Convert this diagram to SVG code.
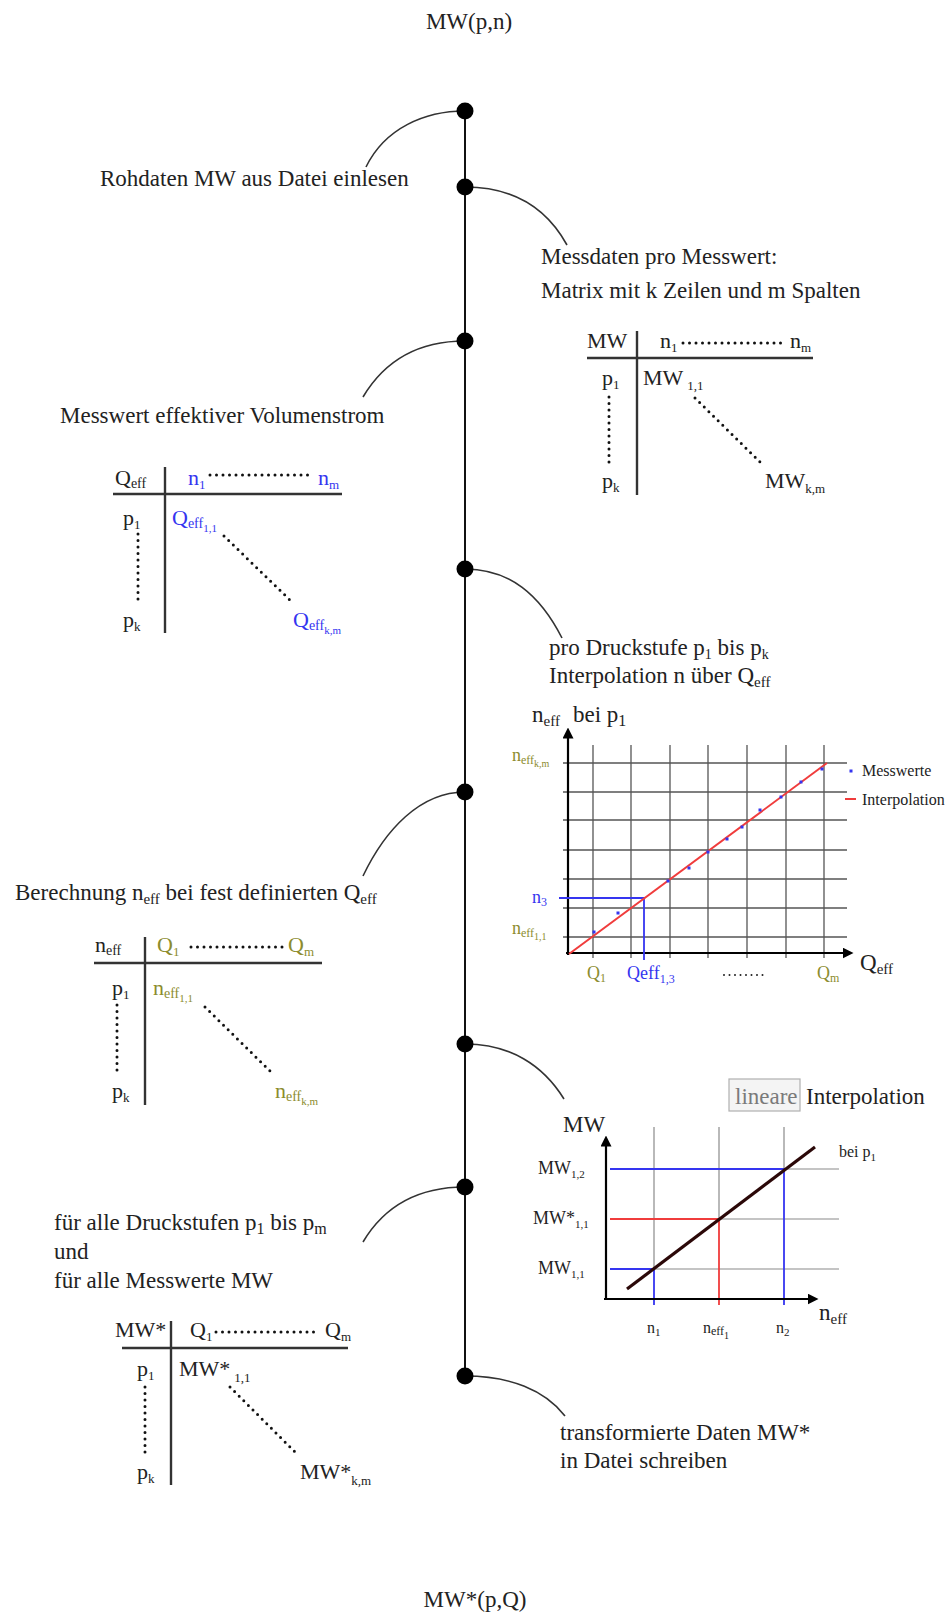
<svg xmlns="http://www.w3.org/2000/svg" width="952" height="1616" viewBox="0 0 952 1616">
<defs>
<style>
text { font-family: 'Liberation Serif', 'Times New Roman', serif; fill: #222; }
.lg { font-size: 23px; }
.tb { font-size: 22px; }
.sm { font-size: 18px; }
.xs { font-size: 16px; }
.blue { fill: #3535f0; }
.olive { fill: #8c8c2e; }
.conn { fill: none; stroke: #333; stroke-width: 1.6; }
.spine { stroke: #111; stroke-width: 2; }
.dot { fill: #000; }
.rule { stroke: #333; stroke-width: 2.4; fill: none; }
.dots { stroke: #111; stroke-width: 3; stroke-linecap: round; stroke-dasharray: 0 6.5; fill: none; }
.sdots { stroke: #222; stroke-width: 2; stroke-linecap: round; stroke-dasharray: 0 5.5; fill: none; }
.g1 { stroke: #555; stroke-width: 1.3; fill: none; }
.g2 { stroke: #8a8a8a; stroke-width: 1.2; fill: none; }
.axis { stroke: #000; stroke-width: 2.2; fill: none; }
.bl { stroke: #3535f0; stroke-width: 1.8; fill: none; }
.rd { stroke: #f03c3c; stroke-width: 1.8; fill: none; }
.pt { fill: #3535f0; }
</style>
<marker id="arr" viewBox="0 0 10 10" refX="5" refY="5" markerWidth="11" markerHeight="11" markerUnits="userSpaceOnUse" orient="auto">
<path d="M0,0 L10,5 L0,10 z" fill="#000"/>
</marker>
</defs>
<rect width="952" height="1616" fill="#fff"/>

<g id="connectors">
<line class="spine" x1="465" y1="111" x2="465" y2="1377"/>
<path class="conn" d="M465,111 C425,111 385,128 366,167"/>
<path class="conn" d="M465,187 C510,187 545,205 567,245"/>
<path class="conn" d="M465,341 C420,341 385,360 363,397"/>
<path class="conn" d="M465,569 C510,569 540,595 562,638"/>
<path class="conn" d="M465,792 C420,792 385,830 363,876"/>
<path class="conn" d="M465,1044 C510,1044 543,1065 564,1099"/>
<path class="conn" d="M465,1187 C420,1187 385,1205 363,1242"/>
<path class="conn" d="M465,1376 C510,1376 545,1390 565,1416"/>
</g>

<g id="start">
<text class="lg" x="469" y="29" text-anchor="middle">MW(p,n)</text>
</g>

<g id="step1">
<circle class="dot" cx="465" cy="111" r="8.5"/>
<text class="lg" x="100" y="186">Rohdaten MW aus Datei einlesen</text>
</g>

<g id="step2">
<circle class="dot" cx="465" cy="187" r="8.5"/>
<text class="lg" x="541" y="264">Messdaten pro Messwert:</text>
<text class="lg" x="541" y="298">Matrix mit k Zeilen und m Spalten</text>
<g id="table-mw">
<line class="rule" x1="637" y1="331" x2="637" y2="495"/>
<line class="rule" x1="587" y1="358" x2="813" y2="358"/>
<text class="tb" x="587" y="348">MW</text>
<text class="tb" x="660" y="348">n<tspan font-size="13" dy="4">1</tspan></text>
<line class="dots" x1="683" y1="343" x2="782" y2="343"/>
<text class="tb" x="790" y="348">n<tspan font-size="13" dy="4">m</tspan></text>
<text class="tb" x="602" y="385">p<tspan font-size="13" dy="4">1</tspan></text>
<line class="dots" x1="609" y1="397" x2="609" y2="465"/>
<text class="tb" x="602" y="488">p<tspan font-size="13" dy="4">k</tspan></text>
<text class="tb" x="643" y="385">MW<tspan font-size="13" dx="4" dy="5">1,1</tspan></text>
<line class="dots" x1="695" y1="398" x2="763" y2="465"/>
<text class="tb" x="765" y="488">MW<tspan font-size="13" dy="5">k,m</tspan></text>
</g>
</g>

<g id="step3">
<circle class="dot" cx="465" cy="341" r="8.5"/>
<text class="lg" x="60" y="423">Messwert effektiver Volumenstrom</text>
<g id="table-qeff">
<line class="rule" x1="165" y1="467" x2="165" y2="633"/>
<line class="rule" x1="113" y1="494" x2="342" y2="494"/>
<text class="tb" x="115" y="485">Q<tspan font-size="14" dy="3">eff</tspan></text>
<text class="tb blue" x="188" y="485">n<tspan font-size="13" dy="4">1</tspan></text>
<line class="dots" x1="210" y1="475" x2="310" y2="475"/>
<text class="tb blue" x="318" y="485">n<tspan font-size="13" dy="4">m</tspan></text>
<text class="tb" x="123" y="525">p<tspan font-size="13" dy="4">1</tspan></text>
<line class="dots" x1="138" y1="534" x2="138" y2="602"/>
<text class="tb" x="123" y="627">p<tspan font-size="13" dy="4">k</tspan></text>
<text class="tb blue" x="172" y="525">Q<tspan font-size="14" dy="3">eff</tspan><tspan font-size="11" dy="4">1,1</tspan></text>
<line class="dots" x1="224" y1="536" x2="292" y2="602"/>
<text class="tb blue" x="293" y="627">Q<tspan font-size="14" dy="3">eff</tspan><tspan font-size="11" dy="4">k,m</tspan></text>
</g>
</g>

<g id="step4">
<circle class="dot" cx="465" cy="569" r="8.5"/>
<text class="lg" x="549" y="655">pro Druckstufe p<tspan font-size="14" dy="4">1</tspan><tspan dy="-4"> bis p</tspan><tspan font-size="14" dy="4">k</tspan></text>
<text class="lg" x="549" y="683">Interpolation n über Q<tspan font-size="15" dy="4">eff</tspan></text>
<g id="chart-interp">
<g class="g1">
<line x1="593" y1="745" x2="593" y2="958"/>
<line x1="631" y1="745" x2="631" y2="958"/>
<line x1="670" y1="745" x2="670" y2="958"/>
<line x1="708" y1="745" x2="708" y2="958"/>
<line x1="747" y1="745" x2="747" y2="958"/>
<line x1="786" y1="745" x2="786" y2="958"/>
<line x1="824" y1="745" x2="824" y2="958"/>
<line x1="563" y1="763" x2="847" y2="763"/>
<line x1="563" y1="792" x2="847" y2="792"/>
<line x1="563" y1="820" x2="847" y2="820"/>
<line x1="563" y1="850" x2="847" y2="850"/>
<line x1="563" y1="879" x2="847" y2="879"/>
<line x1="563" y1="908" x2="847" y2="908"/>
<line x1="563" y1="937" x2="847" y2="937"/>
</g>
<line class="axis" x1="568" y1="955" x2="568" y2="733" marker-end="url(#arr)"/>
<line class="axis" x1="566" y1="953" x2="848" y2="953" marker-end="url(#arr)"/>
<path class="bl" d="M559,898 H644 V960"/>
<line x1="569" y1="954" x2="827" y2="763" stroke="#f03c3c" stroke-width="2"/>
<g class="pt">
<rect x="592.5" y="930.5" width="3" height="3"/>
<rect x="616.5" y="911.5" width="3" height="3"/>
<rect x="666.5" y="879.5" width="3" height="3"/>
<rect x="687.5" y="866.5" width="3" height="3"/>
<rect x="706.5" y="850.5" width="3" height="3"/>
<rect x="725.5" y="837.5" width="3" height="3"/>
<rect x="740.5" y="825.5" width="3" height="3"/>
<rect x="758.5" y="808.5" width="3" height="3"/>
<rect x="779.5" y="795.5" width="3" height="3"/>
<rect x="799.5" y="780.5" width="3" height="3"/>
<rect x="820.5" y="767.5" width="3" height="3"/>
</g>
<text class="lg" x="532" y="722" font-size="24">n<tspan font-size="15" dy="4">eff</tspan></text>
<text class="lg" x="573" y="722">bei p<tspan font-size="16" dy="4">1</tspan></text>
<text class="sm olive" x="512" y="761">n<tspan font-size="12" dy="3">eff</tspan><tspan font-size="10" dy="3">k,m</tspan></text>
<text class="sm blue" x="532" y="903">n<tspan font-size="12" dy="3">3</tspan></text>
<text class="sm olive" x="512" y="934">n<tspan font-size="12" dy="3">eff</tspan><tspan font-size="10" dy="3">1,1</tspan></text>
<text class="sm olive" x="587" y="979">Q<tspan font-size="12" dy="3">1</tspan></text>
<text class="sm blue" x="627" y="979">Qeff<tspan font-size="12" dy="4">1,3</tspan></text>
<line class="sdots" x1="724" y1="975" x2="765" y2="975"/>
<text class="sm olive" x="817" y="979">Q<tspan font-size="12" dy="3">m</tspan></text>
<text class="lg" x="860" y="970" font-size="24">Q<tspan font-size="15" dy="4">eff</tspan></text>
<rect class="pt" x="849.5" y="769.5" width="3" height="3"/>
<text class="xs" x="862" y="776">Messwerte</text>
<line x1="845" y1="799" x2="856" y2="799" stroke="#f03c3c" stroke-width="2"/>
<text class="xs" x="862" y="805">Interpolation</text>
</g>
</g>

<g id="step5">
<circle class="dot" cx="465" cy="792" r="8.5"/>
<text class="lg" x="15" y="900">Berechnung n<tspan font-size="15" dy="4">eff</tspan><tspan dy="-4"> bei fest definierten Q</tspan><tspan font-size="15" dy="4">eff</tspan></text>
<g id="table-neff">
<line class="rule" x1="145" y1="937" x2="145" y2="1105"/>
<line class="rule" x1="94" y1="963" x2="322" y2="963"/>
<text class="tb" x="95" y="952">n<tspan font-size="14" dy="3">eff</tspan></text>
<text class="tb olive" x="157" y="952">Q<tspan font-size="13" dy="4">1</tspan></text>
<line class="dots" x1="191" y1="947" x2="285" y2="947"/>
<text class="tb olive" x="288" y="952">Q<tspan font-size="13" dy="4">m</tspan></text>
<text class="tb" x="112" y="995">p<tspan font-size="13" dy="4">1</tspan></text>
<line class="dots" x1="117" y1="1005" x2="117" y2="1073"/>
<text class="tb" x="112" y="1098">p<tspan font-size="13" dy="4">k</tspan></text>
<text class="tb olive" x="153" y="995">n<tspan font-size="14" dy="3">eff</tspan><tspan font-size="11" dy="4">1,1</tspan></text>
<line class="dots" x1="205" y1="1007" x2="272" y2="1073"/>
<text class="tb olive" x="275" y="1098">n<tspan font-size="14" dy="3">eff</tspan><tspan font-size="11" dy="4">k,m</tspan></text>
</g>
</g>

<g id="step6">
<circle class="dot" cx="465" cy="1044" r="8.5"/>
<rect x="729" y="1079" width="71" height="32" fill="#f4f4f4" stroke="#b0b0b0" stroke-width="1.2"/>
<text class="lg" x="735" y="1104" style="fill:#7a7a7a">lineare</text>
<text class="lg" x="806" y="1104">Interpolation</text>
<g id="chart-linear">
<g class="g2">
<line x1="654" y1="1127" x2="654" y2="1269"/>
<line x1="719" y1="1127" x2="719" y2="1219"/>
<line x1="784" y1="1127" x2="784" y2="1169"/>
<line x1="784" y1="1169" x2="839" y2="1169"/>
<line x1="719" y1="1219" x2="839" y2="1219"/>
<line x1="654" y1="1269" x2="839" y2="1269"/>
</g>
<path class="bl" d="M610,1169 H784 V1305"/>
<path class="rd" d="M610,1219 H719 V1305"/>
<path class="bl" d="M610,1269 H654 V1305"/>
<line class="axis" x1="606" y1="1300" x2="606" y2="1141" marker-end="url(#arr)"/>
<line class="axis" x1="604" y1="1299" x2="813" y2="1299" marker-end="url(#arr)"/>
<line x1="627" y1="1289" x2="815" y2="1147" stroke="#2b0808" stroke-width="3.2"/>
<text class="lg" x="563" y="1132">MW</text>
<text class="sm" x="538" y="1174">MW<tspan font-size="11" dy="4">1,2</tspan></text>
<text class="sm" x="533" y="1224">MW*<tspan font-size="11" dy="4">1,1</tspan></text>
<text class="sm" x="538" y="1274">MW<tspan font-size="11" dy="4">1,1</tspan></text>
<text class="xs" x="839" y="1157" font-size="17">bei p<tspan font-size="11" dy="4">1</tspan></text>
<text class="xs" x="647" y="1333" font-size="17">n<tspan font-size="11" dy="3">1</tspan></text>
<text class="xs" x="703" y="1333" font-size="17">n<tspan font-size="12" dy="2">eff</tspan><tspan font-size="10" dy="4">1</tspan></text>
<text class="xs" x="776" y="1333" font-size="17">n<tspan font-size="11" dy="3">2</tspan></text>
<text class="lg" x="819" y="1320">n<tspan font-size="15" dy="4">eff</tspan></text>
</g>
</g>

<g id="step7">
<circle class="dot" cx="465" cy="1187" r="8.5"/>
<text class="lg" x="54" y="1230">für alle Druckstufen p<tspan font-size="16" dy="4">1</tspan><tspan dy="-4"> bis p</tspan><tspan font-size="16" dy="4">m</tspan></text>
<text class="lg" x="54" y="1259">und</text>
<text class="lg" x="54" y="1288">für alle Messwerte MW</text>
<g id="table-mwstar">
<line class="rule" x1="171" y1="1321" x2="171" y2="1485"/>
<line class="rule" x1="122" y1="1348" x2="348" y2="1348"/>
<text class="tb" x="115" y="1337">MW*</text>
<text class="tb" x="190" y="1337">Q<tspan font-size="13" dy="4">1</tspan></text>
<line class="dots" x1="216" y1="1332" x2="318" y2="1332"/>
<text class="tb" x="325" y="1337">Q<tspan font-size="13" dy="4">m</tspan></text>
<text class="tb" x="137" y="1376">p<tspan font-size="13" dy="4">1</tspan></text>
<line class="dots" x1="145" y1="1387" x2="145" y2="1455"/>
<text class="tb" x="137" y="1479">p<tspan font-size="13" dy="4">k</tspan></text>
<text class="tb" x="179" y="1376">MW*<tspan font-size="13" dx="4" dy="6">1,1</tspan></text>
<line class="dots" x1="230" y1="1387" x2="298" y2="1455"/>
<text class="tb" x="300" y="1479">MW*<tspan font-size="13" dy="6">k,m</tspan></text>
</g>
</g>

<g id="step8">
<circle class="dot" cx="465" cy="1376" r="8.5"/>
<text class="lg" x="560" y="1440">transformierte Daten MW*</text>
<text class="lg" x="560" y="1468">in Datei schreiben</text>
</g>

<g id="end">
<text class="lg" x="475" y="1607" text-anchor="middle">MW*(p,Q)</text>
</g>
</svg>
